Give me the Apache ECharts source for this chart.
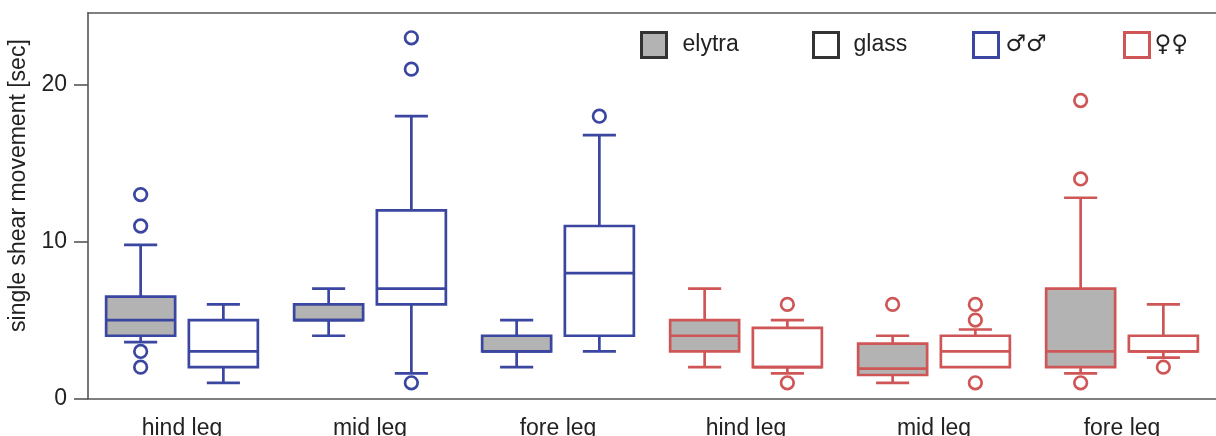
<!DOCTYPE html>
<html>
<head>
<meta charset="utf-8">
<script src="https://cdn.jsdelivr.net/npm/echarts@6/dist/echarts.min.js"></script>
<style>
html,body{margin:0;padding:0;background:#fff;}
#chart{width:1216px;height:436px;}
</style>
</head>
<body>
<div id="chart"></div>
<script>
// ---- data ----
const categories = ['hind leg', 'mid leg', 'fore leg', 'hind leg', 'mid leg', 'fore leg'];
const sexOfCategory = ['male', 'male', 'male', 'female', 'female', 'female'];
// [min whisker, Q1, median, Q3, max whisker]
const elytraBoxes = [
  [3.6, 4, 5, 6.5, 9.8],
  [4, 5, 5, 6, 7],
  [2, 3, 3, 4, 5],
  [2, 3, 4, 5, 7],
  [1, 1.5, 1.9, 3.5, 4],
  [1.6, 2, 3, 7, 12.8]
];
const glassBoxes = [
  [1, 2, 3, 5, 6],
  [1.6, 6, 7, 12, 18],
  [3, 4, 8, 11, 16.8],
  [1.6, 2, 2, 4.5, 5],
  [2, 2, 3, 4, 4.4],
  [2.6, 3, 3, 4, 6]
];
const elytraOutliers = [[13, 11, 3, 2], [], [], [], [6], [19, 14, 1]];
const glassOutliers = [[], [23, 21, 1], [18], [6, 1], [6, 5, 1], [2]];
const yTicks = [0, 10, 20];
const legendNames = ['elytra', 'glass', '♂♂', '♀♀'];

// ---- styles ----
const sexColors = { male: '#3a46a0', female: '#cf5656' };
const grayFill = '#b3b3b3';
const LW = 2.7;
const FONT = '"Liberation Sans", Arial, "DejaVu Sans", sans-serif';
const SYMFONT = '"DejaVu Sans", sans-serif';

function boxRenderer(offsetFrac, filled) {
  return function (params, api) {
    const i = api.value(0);
    const base = api.coord([i, 0]);
    const band = api.size([1, 0])[0];
    const cx = base[0] + offsetFrac * band;
    const w = band * 0.367;
    const cap = w * 0.48;
    const py = v => api.coord([i, v])[1];
    const color = sexColors[sexOfCategory[i]];
    const lineStyle = { stroke: color, lineWidth: LW, fill: null };
    const yMin = py(api.value(1)), yQ1 = py(api.value(2)), yMed = py(api.value(3)),
          yQ3 = py(api.value(4)), yMax = py(api.value(5));
    const ch = [];
    if (yMax < yQ3 - 0.5) {
      ch.push({ type: 'line', shape: { x1: cx, y1: yQ3, x2: cx, y2: yMax }, style: lineStyle });
      ch.push({ type: 'line', shape: { x1: cx - cap / 2, y1: yMax, x2: cx + cap / 2, y2: yMax }, style: lineStyle });
    }
    if (yMin > yQ1 + 0.5) {
      ch.push({ type: 'line', shape: { x1: cx, y1: yQ1, x2: cx, y2: yMin }, style: lineStyle });
      ch.push({ type: 'line', shape: { x1: cx - cap / 2, y1: yMin, x2: cx + cap / 2, y2: yMin }, style: lineStyle });
    }
    ch.push({ type: 'rect', shape: { x: cx - w / 2, y: yQ3, width: w, height: yQ1 - yQ3 },
      style: { fill: filled ? grayFill : '#fff', stroke: color, lineWidth: LW } });
    ch.push({ type: 'line', shape: { x1: cx - w / 2, y1: yMed, x2: cx + w / 2, y2: yMed }, style: lineStyle });
    return { type: 'group', children: ch };
  };
}

function outlierRenderer(offsetFrac) {
  return function (params, api) {
    const i = api.value(0);
    const p = api.coord([i, api.value(1)]);
    const band = api.size([1, 0])[0];
    const color = sexColors[sexOfCategory[i]];
    return { type: 'circle', shape: { cx: p[0] + offsetFrac * band, cy: p[1], r: 6.3 },
      style: { fill: '#fff', stroke: color, lineWidth: LW } };
  };
}

const OFF = 0.22;
const boxData = arr => arr.map((b, i) => [i].concat(b));
const outData = arr => arr.flatMap((vals, i) => vals.map(v => [i, v]));

const legendStyles = [
  { color: grayFill, borderColor: '#333' },
  { color: '#fff', borderColor: '#333' },
  { color: '#fff', borderColor: sexColors.male },
  { color: '#fff', borderColor: sexColors.female }
];
const legendLefts = [640, 812, 972, 1123];
const legendPads = [11, 10, 2, 0];
const legendFonts = [FONT, FONT, SYMFONT, SYMFONT];

const option = {
  animation: false,
  backgroundColor: '#fff',
  textStyle: { fontFamily: FONT },
  grid: { left: 88, right: 0, top: 12.7, bottom: 37.5, outerBoundsMode: 'none', containLabel: false },
  legend: legendNames.map((n, k) => ({
    data: [{ name: n, icon: 'rect', itemStyle: Object.assign({ borderWidth: 3 }, legendStyles[k]) }],
    left: legendLefts[k], top: 31, padding: 0,
    itemWidth: 25, itemHeight: 25,
    selectedMode: false,
    textStyle: { fontSize: 23, color: '#222', fontFamily: legendFonts[k], padding: [0, 0, 0, legendPads[k]] }
  })),
  xAxis: [
    {
      type: 'category', data: categories, boundaryGap: true,
      axisLine: { lineStyle: { color: '#555', width: 1.6 } },
      axisTick: { show: false },
      axisLabel: { fontSize: 23, color: '#222', margin: 19, interval: 0, fontFamily: FONT },
      splitLine: { show: false }
    },
    {
      type: 'category', data: categories, position: 'top',
      axisLine: { lineStyle: { color: '#555', width: 1.6 } },
      axisTick: { show: false }, axisLabel: { show: false }, splitLine: { show: false }
    }
  ],
  yAxis: {
    type: 'value', min: 0, max: 24.6, interval: 10,
    axisLine: { show: true, lineStyle: { color: '#555', width: 1.6 } },
    axisTick: { show: true, length: 14, customValues: yTicks, lineStyle: { color: '#555', width: 1.6 } },
    axisLabel: { fontSize: 23, color: '#222', margin: 21, customValues: yTicks, fontFamily: FONT },
    splitLine: { show: false },
    name: 'single shear movement [sec]',
    nameLocation: 'middle', nameGap: 46,
    nameTextStyle: { fontSize: 23, color: '#222', fontFamily: FONT, padding: [0, 0, 0, 40] }
  },
  series: [
    { name: 'elytra', type: 'custom', renderItem: boxRenderer(-OFF, true), data: boxData(elytraBoxes), encode: { x: 0, y: 1 }, z: 2 },
    { name: 'glass', type: 'custom', renderItem: boxRenderer(OFF, false), data: boxData(glassBoxes), encode: { x: 0, y: 1 }, z: 2 },
    { name: 'elytra outliers', type: 'custom', renderItem: outlierRenderer(-OFF), data: outData(elytraOutliers), encode: { x: 0, y: 1 }, z: 3 },
    { name: 'glass outliers', type: 'custom', renderItem: outlierRenderer(OFF), data: outData(glassOutliers), encode: { x: 0, y: 1 }, z: 3 },
    { name: '♂♂', type: 'custom', renderItem: () => null, data: [] },
    { name: '♀♀', type: 'custom', renderItem: () => null, data: [] }
  ]
};

const chart = echarts.init(document.getElementById('chart'), null, { renderer: 'canvas' });
chart.setOption(option);
</script>
</body>
</html>
